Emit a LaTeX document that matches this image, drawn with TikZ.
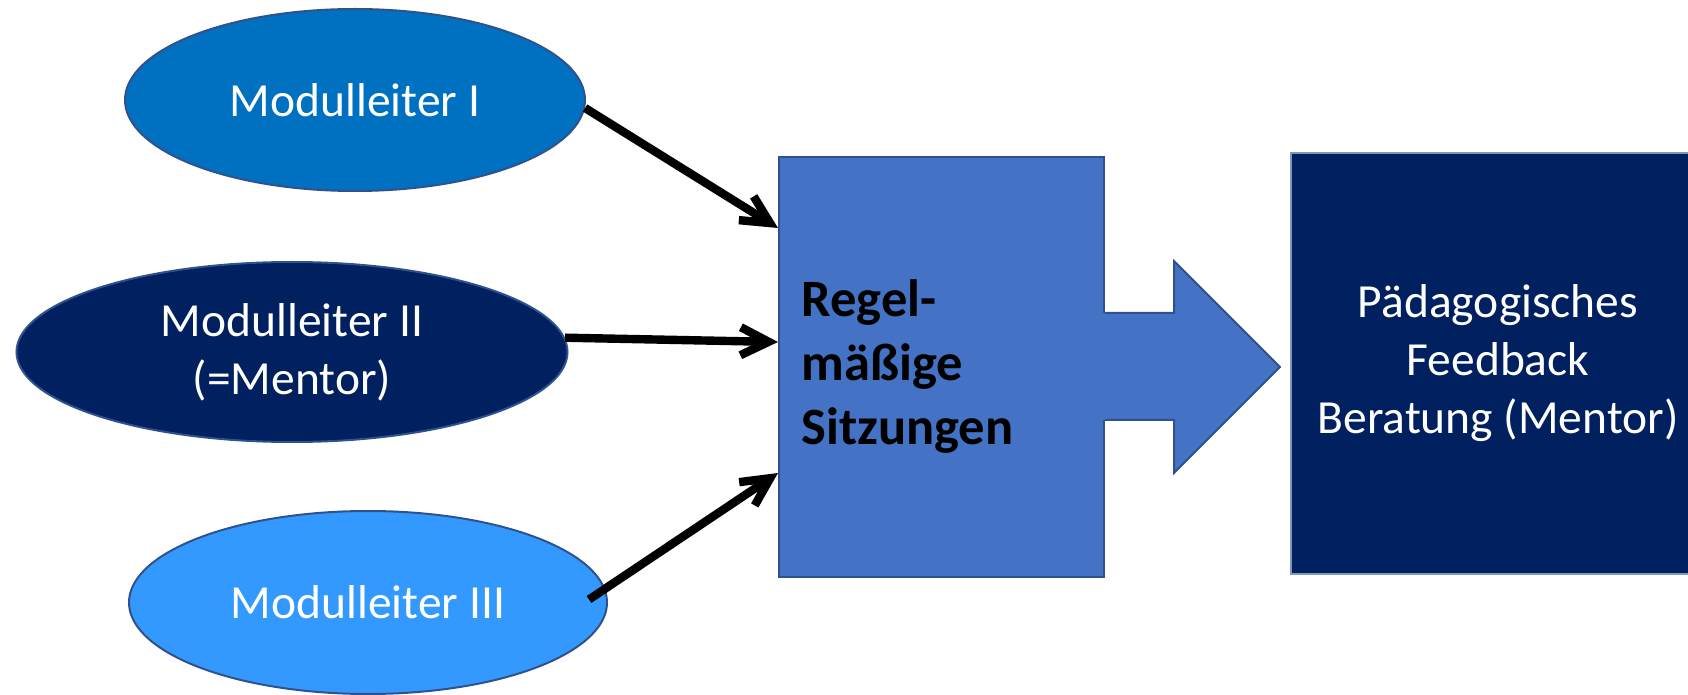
\documentclass[tikz,border=0pt]{standalone}
\usepackage{fontspec}
\setmainfont{Carlito}
\usetikzlibrary{shapes.geometric,arrows.meta,calc}
\definecolor{mlone}{HTML}{0070C0}
\definecolor{mltwo}{HTML}{002060}
\definecolor{mlthree}{HTML}{3399FF}
\definecolor{boxblue}{HTML}{4472C4}
\definecolor{edgeblue}{HTML}{2F528F}
\begin{document}
\begin{tikzpicture}[x=0.5pt,y=-0.5pt,
  ell/.style={ellipse, draw=edgeblue, line width=1pt, text=white, inner sep=0pt,
    align=center, font=\fontsize{23.75}{29}\selectfont},
  conn/.style={line width=4.2pt, -{Straight Barb[length=14pt,width=14pt]}},
]
\useasboundingbox (0,0) rectangle (1688,695);
\clip (0,0) rectangle (1688,695);

\node[ell, fill=mlone, minimum width=230pt, minimum height=91pt] (e1) at (355,100) {Modulleiter I};
\node[ell, fill=mltwo, minimum width=275.5pt, minimum height=90pt] (e2) at (292,352) {Modulleiter II\\(=Mentor)};
\node[ell, fill=mlthree, minimum width=239pt, minimum height=91.5pt] (e3) at (368,602.5) {Modulleiter III};

\node[draw=edgeblue, line width=1pt, fill=boxblue, minimum width=162.5pt, minimum height=210pt,
  text width=140pt, inner xsep=11pt, align=left,
  font=\bfseries\fontsize{26.25}{32}\selectfont] (box) at (941.5,367) {Regel-\\mäßige\\Sitzungen};

\fill[boxblue] ($(box.east)+(-2,-54)$) -- ($(box.east)+(69,-54)$) -- ($(box.east)+(69,-106)$)
  -- ($(box.east)+(175,0)$) -- ($(box.east)+(69,106)$) -- ($(box.east)+(69,53)$)
  -- ($(box.east)+(-2,53)$) -- cycle;
\draw[edgeblue, line width=1pt] ($(box.east)+(0,-54)$) -- ($(box.east)+(69,-54)$) -- ($(box.east)+(69,-106)$)
  -- ($(box.east)+(175,0)$) -- ($(box.east)+(69,106)$) -- ($(box.east)+(69,53)$)
  -- ($(box.east)+(0,53)$);

\node[draw=edgeblue!60, line width=0.8pt, fill=mltwo, minimum width=207pt, minimum height=210.5pt,
  text=white, align=center, font=\fontsize{23.75}{29}\selectfont] (fb) at (1498,363.5)
  {Pädagogisches\\Feedback\\Beratung (Mentor)};

\coordinate (t1) at ($(box.west)+(0,-139)$);
\coordinate (t2) at ($(box.west)+(0,-25)$);
\coordinate (t3) at ($(box.west)+(0,106)$);
\coordinate (s3) at ($(e3.east)+(-19,-3)$);
\draw[conn] (e1.-2.5) -- (t1);
\draw[conn] (e2.3) -- (t2);
\draw[conn] (s3) -- (t3);
\end{tikzpicture}
\end{document}
